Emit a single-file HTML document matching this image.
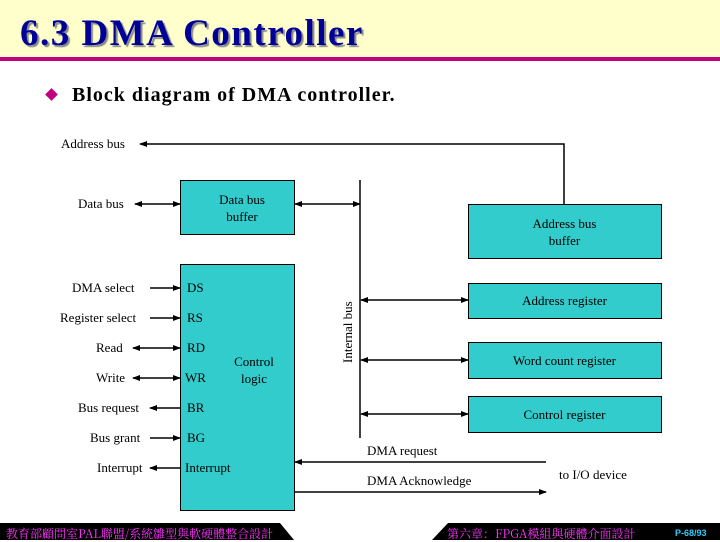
<!DOCTYPE html>
<html><head><meta charset="utf-8"><style>
body{margin:0;width:720px;height:540px;position:relative;background:#fff;overflow:hidden;font-family:"Liberation Serif",serif}
.t{position:absolute;font-size:13px;color:#000;white-space:nowrap;line-height:1}
</style></head><body>
<div style="position:absolute;left:0;top:0;width:720px;height:57px;background:#ffffcc"></div>
<div style="position:absolute;left:0;top:57px;width:720px;height:4px;background:#c0007f"></div>
<div style="position:absolute;left:20px;top:12px;font:bold 37px 'Liberation Serif',serif;letter-spacing:1.5px;color:#000099;text-shadow:2px 2px 1px #888">6.3 DMA Controller</div>
<div style="position:absolute;left:47px;top:90px;width:9px;height:9px;background:#c0007f;transform:rotate(45deg)"></div>
<div style="position:absolute;left:72px;top:84px;font:bold 20px 'Liberation Serif',serif;letter-spacing:1px">Block diagram of DMA controller.</div>
<svg width="720" height="540" style="position:absolute;left:0;top:0">
<defs><marker id="a" markerWidth="8" markerHeight="6" refX="7" refY="3" orient="auto-start-reverse" markerUnits="userSpaceOnUse"><path d="M0,0L8,3L0,6z"/></marker></defs>
<g fill="#33cccc" stroke="#000" stroke-width="1">
<rect x="180.5" y="180.5" width="114" height="54"/>
<rect x="180.5" y="264.5" width="114" height="246"/>
<rect x="468.5" y="204.5" width="193" height="54"/>
<rect x="468.5" y="283.5" width="193" height="35"/>
<rect x="468.5" y="342.5" width="193" height="36"/>
<rect x="468.5" y="396.5" width="193" height="36"/>
</g>
<g stroke="#000" stroke-width="1.5" fill="none">
<path d="M564,204V144H140" marker-end="url(#a)"/>
<line x1="360" y1="180" x2="360" y2="438"/>
<line x1="135" y1="204" x2="180" y2="204" marker-start="url(#a)" marker-end="url(#a)"/>
<line x1="295" y1="204" x2="360" y2="204" marker-start="url(#a)" marker-end="url(#a)"/>
<line x1="361" y1="300" x2="468" y2="300" marker-start="url(#a)" marker-end="url(#a)"/>
<line x1="361" y1="360" x2="468" y2="360" marker-start="url(#a)" marker-end="url(#a)"/>
<line x1="361" y1="414" x2="468" y2="414" marker-start="url(#a)" marker-end="url(#a)"/>
<line x1="150" y1="288" x2="180" y2="288" marker-end="url(#a)"/>
<line x1="150" y1="318" x2="180" y2="318" marker-end="url(#a)"/>
<line x1="133" y1="348" x2="180" y2="348" marker-start="url(#a)" marker-end="url(#a)"/>
<line x1="133" y1="378" x2="180" y2="378" marker-start="url(#a)" marker-end="url(#a)"/>
<line x1="180" y1="408" x2="150" y2="408" marker-end="url(#a)"/>
<line x1="150" y1="438" x2="180" y2="438" marker-end="url(#a)"/>
<line x1="180" y1="468" x2="150" y2="468" marker-end="url(#a)"/>
<line x1="546" y1="462" x2="295" y2="462" marker-end="url(#a)"/>
<line x1="295" y1="492" x2="546" y2="492" marker-end="url(#a)"/>
</g>
<polygon points="0,523 280,523 294,540 0,540" fill="#000"/>
<polygon points="448,523 720,523 720,540 432,540" fill="#000"/>
<text x="352" y="363" transform="rotate(-90 352 363)" font-family="Liberation Serif" font-size="13">Internal bus</text>
</svg>
<div class="t" style="left:61px;top:137px">Address bus</div>
<div class="t" style="left:78px;top:197px">Data bus</div>
<div class="t" style="left:180px;top:191px;width:124px;text-align:center;line-height:17px">Data bus<br>buffer</div>
<div class="t" style="left:72px;top:281px">DMA select</div>
<div class="t" style="left:60px;top:311px">Register select</div>
<div class="t" style="left:96px;top:341px">Read</div>
<div class="t" style="left:96px;top:371px">Write</div>
<div class="t" style="left:78px;top:401px">Bus request</div>
<div class="t" style="left:90px;top:431px">Bus grant</div>
<div class="t" style="left:97px;top:461px">Interrupt</div>
<div class="t" style="left:187px;top:281px">DS</div>
<div class="t" style="left:187px;top:311px">RS</div>
<div class="t" style="left:187px;top:341px">RD</div>
<div class="t" style="left:185px;top:371px">WR</div>
<div class="t" style="left:187px;top:401px">BR</div>
<div class="t" style="left:187px;top:431px">BG</div>
<div class="t" style="left:185px;top:461px">Interrupt</div>
<div class="t" style="left:224px;top:353px;width:60px;text-align:center;line-height:17px">Control<br>logic</div>
<div class="t" style="left:468px;top:215px;width:193px;text-align:center;line-height:17px">Address bus<br>buffer</div>
<div class="t" style="left:468px;top:294px;width:193px;text-align:center">Address register</div>
<div class="t" style="left:468px;top:354px;width:193px;text-align:center">Word count register</div>
<div class="t" style="left:468px;top:408px;width:193px;text-align:center">Control register</div>
<div class="t" style="left:367px;top:444px">DMA request</div>
<div class="t" style="left:367px;top:474px">DMA Acknowledge</div>
<div class="t" style="left:559px;top:468px">to I/O device</div>
<div class="t" style="left:6px;top:525px;font:12px 'Noto Serif CJK SC','Noto Sans CJK TC',serif;color:#ff33ff">教育部顧問室PAL聯盟/系統雛型與軟硬體整合設計</div>
<div class="t" style="left:447px;top:525px;font:12px 'Noto Serif CJK SC','Noto Sans CJK TC',serif;color:#ff33ff">第六章：FPGA模組與硬體介面設計</div>
<div class="t" style="left:675px;top:528px;font:bold 9px 'Liberation Sans',sans-serif;color:#33ccff">P-68/93</div>
</body></html>
